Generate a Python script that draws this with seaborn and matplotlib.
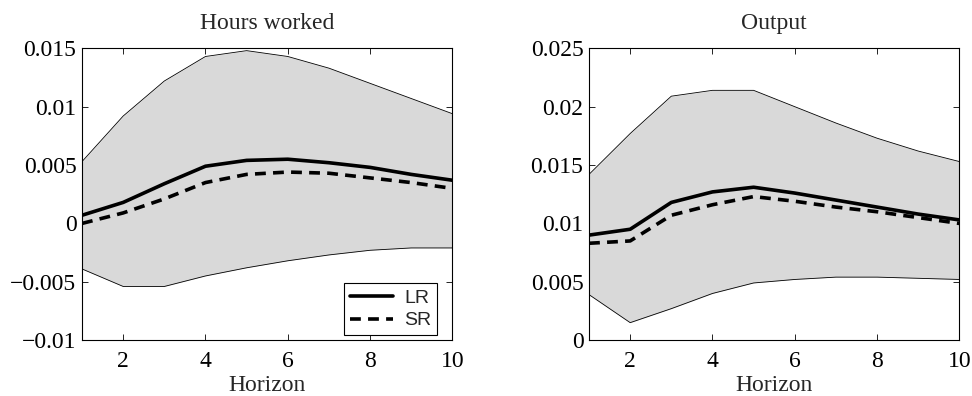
import numpy as np
import pandas as pd
import matplotlib
matplotlib.use("Agg")
import matplotlib.pyplot as plt
from matplotlib.lines import Line2D
import seaborn as sns

horizon = [1, 2, 3, 4, 5, 6, 7, 8, 9, 10]

# Hours worked: impulse responses and confidence band
hours_lr = [0.0007, 0.0018, 0.0034, 0.0049, 0.0054, 0.0055, 0.0052, 0.0048, 0.0042, 0.0037]
hours_sr = [0.0000, 0.0009, 0.0021, 0.0035, 0.0042, 0.0044, 0.0043, 0.0039, 0.0035, 0.0030]
hours_hi = [0.0053, 0.0092, 0.0122, 0.0143, 0.0148, 0.0143, 0.0133, 0.0120, 0.0107, 0.0094]
hours_lo = [-0.0039, -0.0054, -0.0054, -0.0045, -0.0038, -0.0032, -0.0027, -0.0023, -0.0021, -0.0021]

# Output: impulse responses and confidence band
output_lr = [0.0090, 0.0095, 0.0118, 0.0127, 0.0131, 0.0126, 0.0120, 0.0114, 0.0108, 0.0103]
output_sr = [0.0083, 0.0085, 0.0107, 0.0116, 0.0123, 0.0119, 0.0114, 0.0110, 0.0105, 0.0100]
output_hi = [0.0142, 0.0177, 0.0209, 0.0214, 0.0214, 0.0200, 0.0186, 0.0173, 0.0162, 0.0153]
output_lo = [0.0039, 0.0015, 0.0027, 0.0040, 0.0049, 0.0052, 0.0054, 0.0054, 0.0053, 0.0052]

hours_yticks = [-0.01, -0.005, 0, 0.005, 0.01, 0.015]
hours_ylabels = ["\u22120.01", "\u22120.005", "0", "0.005", "0.01", "0.015"]
output_yticks = [0, 0.005, 0.01, 0.015, 0.02, 0.025]
output_ylabels = ["0", "0.005", "0.01", "0.015", "0.02", "0.025"]
xticks = [2, 4, 6, 8, 10]

sns.set_theme(style="ticks")
plt.rcParams["font.family"] = ["Liberation Serif", "DejaVu Serif"]

fig = plt.figure(figsize=(9.72, 3.96), dpi=100)
ax1 = fig.add_axes([0.0844, 0.141, 0.381, 0.737])
ax2 = fig.add_axes([0.606, 0.141, 0.381, 0.737])


def panel(ax, title, lr, sr, hi, lo, yticks, ylabels, legend):
    ax.fill_between(horizon, lo, hi, color="#d9d9d9", linewidth=0, zorder=1)
    ax.plot(horizon, hi, color="black", lw=0.6, zorder=2)
    ax.plot(horizon, lo, color="black", lw=0.6, zorder=2)
    df = pd.DataFrame({"Horizon": horizon * 2,
                       "value": lr + sr,
                       "kind": ["LR"] * len(horizon) + ["SR"] * len(horizon)})
    sns.lineplot(data=df, x="Horizon", y="value", style="kind",
                 dashes={"LR": "", "SR": (3, 2)}, color="black", lw=2.6,
                 ax=ax, legend=False, zorder=3)
    ax.set_xlim(1, 10)
    ax.set_ylim(yticks[0], yticks[-1])
    ax.set_xticks(xticks)
    ax.set_xticklabels([str(t) for t in xticks])
    ax.set_yticks(yticks)
    ax.set_yticklabels(ylabels)
    ax.tick_params(direction="in", length=4, width=0.6, top=True, right=True,
                   labelsize=17, color="black", labelcolor="black")
    ax.tick_params(axis="x", pad=8)
    ax.tick_params(axis="y", pad=4)
    for s in ax.spines.values():
        s.set_linewidth(0.8)
        s.set_color("black")
    ax.set_title(title, fontsize=17, pad=14)
    ax.set_xlabel("Horizon", fontsize=17, labelpad=2)
    ax.set_ylabel("")
    if legend:
        handles = [Line2D([], [], color="black", lw=2.6),
                   Line2D([], [], color="black", lw=2.6, dashes=(3, 2))]
        leg = ax.legend(handles, ["LR", "SR"], loc="lower right",
                        bbox_to_anchor=(0.959, 0.017),
                        prop={"family": "Liberation Sans", "size": 14},
                        frameon=True, fancybox=False, framealpha=1,
                        edgecolor="black", handlelength=2.2,
                        borderaxespad=0.0, borderpad=0.3, labelspacing=0.25,
                        handletextpad=0.6)
        leg.get_frame().set_linewidth(0.8)


panel(ax1, "Hours worked", hours_lr, hours_sr, hours_hi, hours_lo,
      hours_yticks, hours_ylabels, True)
panel(ax2, "Output", output_lr, output_sr, output_hi, output_lo,
      output_yticks, output_ylabels, False)

fig.savefig("out.png", dpi=100)
